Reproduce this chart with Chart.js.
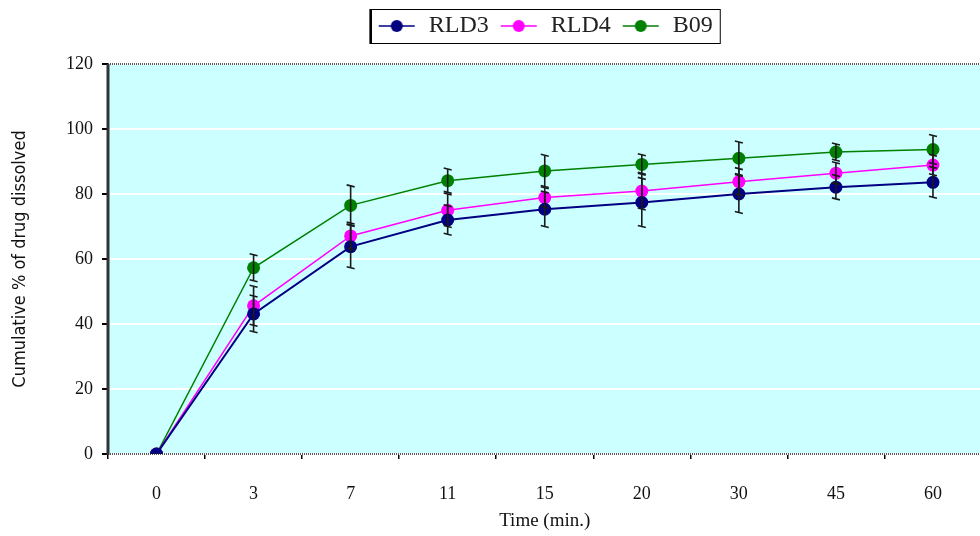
<!DOCTYPE html>
<html>
<head>
<meta charset="utf-8">
<script src="https://cdn.jsdelivr.net/npm/chart.js@4.4.0/dist/chart.umd.min.js"></script>
<style>
  body { margin: 0; background: #fff; overflow: hidden; }
  #wrap { width: 988px; height: 536px; }
</style>
</head>
<body>
<div id="wrap"><canvas id="chart" width="988" height="536"></canvas></div>
<script>
// time points (min.)
const timeLabels = ['0', '3', '7', '11', '15', '20', '30', '45', '60'];

// cumulative % drug dissolved
const rld3 = [0, 43.1, 63.8, 72.0, 75.3, 77.4, 80.0, 82.1, 83.6];
const rld4 = [0, 45.6, 67.1, 75.0, 78.9, 80.9, 83.8, 86.4, 88.9];
const b09  = [0, 57.3, 76.5, 84.1, 87.1, 89.1, 91.0, 92.9, 93.7];

// error bars (+/-)
const rld3Err = [0, 5.5, 6.5, 4.4, 5.3, 7.4, 5.7, 3.6, 4.6];
const rld4Err = [0, 6.0, 4.0, 5.0, 3.0, 5.5, 4.0, 3.2, 3.0];
const b09Err  = [0, 4.0, 6.0, 3.6, 4.8, 3.0, 5.0, 2.5, 4.3];

const colors = { rld3: '#000080', rld4: '#ff00ff', b09: '#008000' };

// legend marker: short line with a dot in the middle
function legendMarker(color) {
    const c = document.createElement('canvas');
    c.width = 40; c.height = 14;
    const g = c.getContext('2d');
    g.strokeStyle = color;
    g.lineWidth = 1.5;
    g.beginPath(); g.moveTo(2, 7); g.lineTo(38, 7); g.stroke();
    g.fillStyle = color;
    g.beginPath(); g.arc(20, 7, 6, 0, Math.PI * 2); g.fill();
    return c;
}

// plot area background, borders, legend frame
const plotBg = {
    id: 'plotBg',
    beforeDraw(chart) {
        const a = chart.chartArea, ctx = chart.ctx;
        ctx.save();
        ctx.fillStyle = '#ccffff';
        ctx.fillRect(a.left, a.top, a.right - a.left, a.bottom - a.top);
        ctx.restore();
    },
    afterDraw(chart) {
        const a = chart.chartArea, ctx = chart.ctx;
        ctx.save();
        ctx.strokeStyle = '#222';
        ctx.lineWidth = 1.5;
        ctx.setLineDash([1, 1]);
        ctx.beginPath();
        ctx.moveTo(a.left, a.bottom); ctx.lineTo(a.right, a.bottom);
        ctx.moveTo(a.left, a.top); ctx.lineTo(a.right, a.top);
        ctx.stroke();
        ctx.setLineDash([]);
        ctx.strokeStyle = '#333';
        ctx.lineWidth = 3;
        ctx.beginPath(); ctx.moveTo(a.left, a.top); ctx.lineTo(a.left, a.bottom + 1); ctx.stroke();
        const lg = chart.legend;
        if (lg && lg.legendHitBoxes.length) {
            const boxes = lg.legendHitBoxes;
            const l = Math.min(...boxes.map(b => b.left)) - 7;
            const r = Math.max(...boxes.map(b => b.left + b.width)) + 7;
            const t = boxes[0].top - 5, h = boxes[0].height + 10;
            ctx.strokeStyle = '#000';
            ctx.lineWidth = 1;
            ctx.strokeRect(l + 0.5, t + 0.5, r - l, h);
            ctx.lineWidth = 2.5;
            ctx.beginPath(); ctx.moveTo(l + 1, t); ctx.lineTo(l + 1, t + h + 1); ctx.stroke();
        }
        ctx.restore();
    }
};

// error bars drawn via scales
const errBars = {
    id: 'errBars',
    afterDatasetsDraw(chart) {
        const ctx = chart.ctx, ys = chart.scales.y;
        ctx.save();
        ctx.strokeStyle = '#1a1a1a';
        ctx.lineWidth = 1.6;
        chart.data.datasets.forEach((ds, i) => {
            const meta = chart.getDatasetMeta(i);
            meta.data.forEach((pt, j) => {
                const e = ds.errors[j];
                if (!e) return;
                const yt = ys.getPixelForValue(ds.data[j] + e);
                const yb = ys.getPixelForValue(ds.data[j] - e);
                ctx.beginPath();
                ctx.moveTo(pt.x, yt); ctx.lineTo(pt.x, yb);
                ctx.moveTo(pt.x - 4, yt - 1); ctx.lineTo(pt.x + 4, yt + 1);
                ctx.moveTo(pt.x - 4, yb - 1); ctx.lineTo(pt.x + 4, yb + 1);
                ctx.stroke();
            });
        });
        ctx.restore();
    }
};

// push plot down below the legend
const legendGap = {
    id: 'legendGap',
    beforeInit(chart) {
        const fit = chart.legend.fit;
        chart.legend.fit = function () {
            fit.bind(chart.legend)();
            this.height += 16;
        };
    }
};

function makeSet(label, data, errs, color, width) {
    return {
        label: label,
        data: data,
        errors: errs,
        borderColor: color,
        backgroundColor: color,
        borderWidth: width,
        pointRadius: 6.5,
        pointHoverRadius: 6.5,
        pointBorderWidth: 0,
        tension: 0,
        fill: false,
        legendMarker: legendMarker(color)
    };
}

new Chart(document.getElementById('chart'), {
    type: 'line',
    data: {
        labels: timeLabels,
        datasets: [
            makeSet('RLD3', rld3, rld3Err, colors.rld3, 2),
            makeSet('RLD4', rld4, rld4Err, colors.rld4, 1.5),
            makeSet('B09', b09, b09Err, colors.b09, 1.5)
        ]
    },
    options: {
        responsive: false,
        animation: false,
        layout: { padding: { left: 0, right: 0, top: 4, bottom: 0 } },
        plugins: {
            tooltip: { enabled: false },
            legend: {
                position: 'top',
                fullSize: false,
                labels: {
                    usePointStyle: true,
                    pointStyleWidth: 40,
                    boxHeight: 14,
                    padding: 10,
                    color: '#222',
                    font: { family: 'Liberation Serif', size: 24 },
                    generateLabels(chart) {
                        return chart.data.datasets.map((ds, i) => ({
                            text: ds.label,
                            pointStyle: ds.legendMarker,
                            fillStyle: ds.borderColor,
                            strokeStyle: ds.borderColor,
                            lineWidth: 0,
                            fontColor: '#222',
                            datasetIndex: i,
                            hidden: false
                        }));
                    }
                }
            }
        },
        scales: {
            x: {
                type: 'category',
                offset: true,
                afterFit(axis) { axis.height = 82; },
                border: { display: false },
                grid: {
                    offset: true,
                    drawOnChartArea: false,
                    color: '#000',
                    tickColor: '#000',
                    tickLength: 5,
                    lineWidth: 1.5
                },
                ticks: {
                    color: '#111',
                    padding: 24,
                    font: { family: 'Liberation Serif', size: 18 }
                },
                title: {
                    display: true,
                    text: 'Time (min.)',
                    color: '#111',
                    padding: { top: 0 },
                    font: { family: 'Liberation Serif', size: 19 }
                }
            },
            y: {
                min: 0,
                max: 120,
                afterFit(axis) { axis.width = 108; },
                border: { display: false },
                grid: {
                    color: '#ffffff',
                    lineWidth: 2,
                    tickColor: '#000',
                    tickLength: 6
                },
                ticks: {
                    stepSize: 20,
                    color: '#111',
                    padding: 9,
                    font: { family: 'Liberation Serif', size: 18 }
                },
                title: {
                    display: true,
                    text: 'Cumulative % of drug dissolved',
                    color: '#111',
                    padding: { top: 10, bottom: 4 },
                    font: { family: "'Liberation Sans Narrow', 'DejaVu Sans Condensed', sans-serif", size: 18 }
                }
            }
        }
    },
    plugins: [legendGap, plotBg, errBars]
});
</script>
</body>
</html>
